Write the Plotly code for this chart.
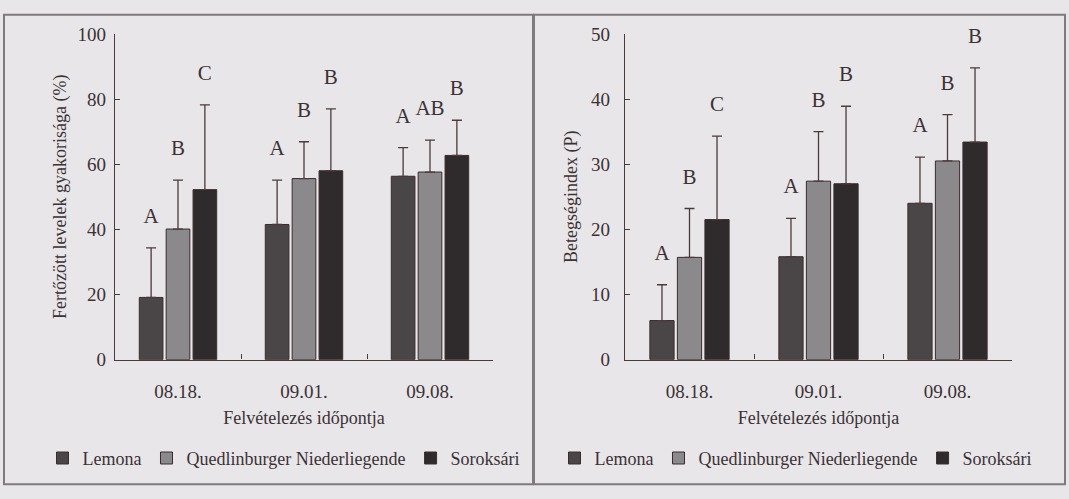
import plotly.graph_objects as go

# ---------------- data ----------------
dates = ["08.18.", "09.01.", "09.08."]
varieties = ["Lemona", "Quedlinburger Niederliegende", "Soroksári"]

# Left panel: Fertőzött levelek gyakorisága (%)
freq_lemona = [19.1, 41.5, 56.3]
freq_quedlin = [40.1, 55.6, 57.6]
freq_soroksari = [52.2, 58.0, 62.7]
freq_lemona_sd = [15.2, 13.6, 8.8]
freq_quedlin_sd = [15.0, 11.3, 9.8]
freq_soroksari_sd = [26.0, 19.0, 10.8]
freq_lemona_sig = ["A", "A", "A"]
freq_quedlin_sig = ["B", "B", "AB"]
freq_soroksari_sig = ["C", "B", "B"]

# Right panel: Betegségindex (P)
idx_lemona = [6.0, 15.8, 24.0]
idx_quedlin = [15.7, 27.4, 30.5]
idx_soroksari = [21.5, 27.0, 33.4]
idx_lemona_sd = [5.5, 5.9, 7.1]
idx_quedlin_sd = [7.5, 7.6, 7.1]
idx_soroksari_sd = [12.8, 11.9, 11.4]
idx_lemona_sig = ["A", "A", "A"]
idx_quedlin_sig = ["B", "B", "B"]
idx_soroksari_sig = ["C", "B", "B"]

left_ticks = [0, 20, 40, 60, 80, 100]
right_ticks = [0, 10, 20, 30, 40, 50]

# ---------------- style ----------------
FONT = "Liberation Serif"
TXT = "#3b3235"
AX = "#4a3a3c"
BG = "#e8e6e9"
colors = ["#4a4547", "#8b898b", "#2f2a2c"]
groups = ["L", "Q", "S"]

fig = go.Figure()

panels = [
    dict(vals=[freq_lemona, freq_quedlin, freq_soroksari],
         sds=[freq_lemona_sd, freq_quedlin_sd, freq_soroksari_sd],
         sigs=[freq_lemona_sig, freq_quedlin_sig, freq_soroksari_sig],
         xa="x", ya="y", legend="legend"),
    dict(vals=[idx_lemona, idx_quedlin, idx_soroksari],
         sds=[idx_lemona_sd, idx_quedlin_sd, idx_soroksari_sd],
         sigs=[idx_lemona_sig, idx_quedlin_sig, idx_soroksari_sig],
         xa="x2", ya="y2", legend="legend2"),
]

for p in panels:
    for i, name in enumerate(varieties):
        fig.add_trace(go.Bar(
            x=dates, y=p["vals"][i], name=name,
            xaxis=p["xa"], yaxis=p["ya"], legend=p["legend"],
            offsetgroup=groups[i],
            marker=dict(color=colors[i], line=dict(color="#3a2c2e", width=1)),
            error_y=dict(type="data", symmetric=False, array=p["sds"][i],
                         arrayminus=[0] * len(dates), color=AX,
                         thickness=1.3, width=5),
            hoverinfo="skip",
        ))
    for i, name in enumerate(varieties):
        tops = [v + s for v, s in zip(p["vals"][i], p["sds"][i])]
        fig.add_trace(go.Scatter(
            x=dates, y=tops, text=p["sigs"][i], mode="markers+text",
            textposition="top center",
            textfont=dict(family=FONT, size=21, color=TXT),
            marker=dict(size=30, opacity=0),
            xaxis=p["xa"], yaxis=p["ya"], offsetgroup=groups[i],
            showlegend=False, hoverinfo="skip", cliponaxis=False,
        ))

ybot = 1 - 365 / 499
ytop = 1 - 25 / 499

axis_common = dict(showline=True, linecolor=AX, linewidth=1.3,
                   tickcolor=AX, tickwidth=1.3, ticklen=5, ticks="inside",
                   showgrid=False, zeroline=False,
                   tickfont=dict(family=FONT, size=19, color=TXT))

title_font = dict(family=FONT, size=18, color=TXT)

fig.update_layout(
    width=1069, height=499,
    margin=dict(l=0, r=0, t=0, b=0),
    paper_bgcolor=BG, plot_bgcolor=BG,
    font=dict(family=FONT, color=TXT),
    barmode="group", bargap=0.36, bargroupgap=0.12,
    scattermode="group", scattergap=0.36,
    xaxis=dict(domain=[115 / 1069, 493 / 1069], anchor="y",
               tickson="boundaries", ticklabelstandoff=14,
               title=dict(text="Felvételezés időpontja", standoff=10,
                          font=title_font),
               **axis_common),
    yaxis=dict(domain=[ybot, ytop], anchor="x", range=[0, 100],
               tickvals=left_ticks, ticklabelstandoff=4,
               title=dict(text="Fertőzött levelek gyakorisága (%)", standoff=6,
                          font=title_font),
               **axis_common),
    xaxis2=dict(domain=[625 / 1069, 1012 / 1069], anchor="y2",
                tickson="boundaries", ticklabelstandoff=14,
                title=dict(text="Felvételezés időpontja", standoff=10,
                           font=title_font),
                **axis_common),
    yaxis2=dict(domain=[ybot, ytop], anchor="x2", range=[0, 50],
                tickvals=right_ticks, ticklabelstandoff=10,
                title=dict(text="Betegségindex (P)", standoff=8,
                           font=title_font),
                **axis_common),
    legend=dict(orientation="h", x=284 / 1069, y=1 - 468 / 499,
                xanchor="center", yanchor="middle", bgcolor="rgba(0,0,0,0)",
                itemwidth=30, font=dict(family=FONT, size=18, color=TXT)),
    legend2=dict(orientation="h", x=796 / 1069, y=1 - 468 / 499,
                 xanchor="center", yanchor="middle", bgcolor="rgba(0,0,0,0)",
                 itemwidth=30, font=dict(family=FONT, size=18, color=TXT)),
    shapes=[
        dict(type="rect", xref="paper", yref="paper",
             x0=4 / 1069, x1=533 / 1069, y0=1 - 495 / 499, y1=1 - 5 / 499,
             line=dict(color="#7f7a7c", width=2)),
        dict(type="rect", xref="paper", yref="paper",
             x0=534 / 1069, x1=1065 / 1069, y0=1 - 495 / 499, y1=1 - 5 / 499,
             line=dict(color="#7f7a7c", width=2)),
    ],
)

fig.write_html("out.html")
